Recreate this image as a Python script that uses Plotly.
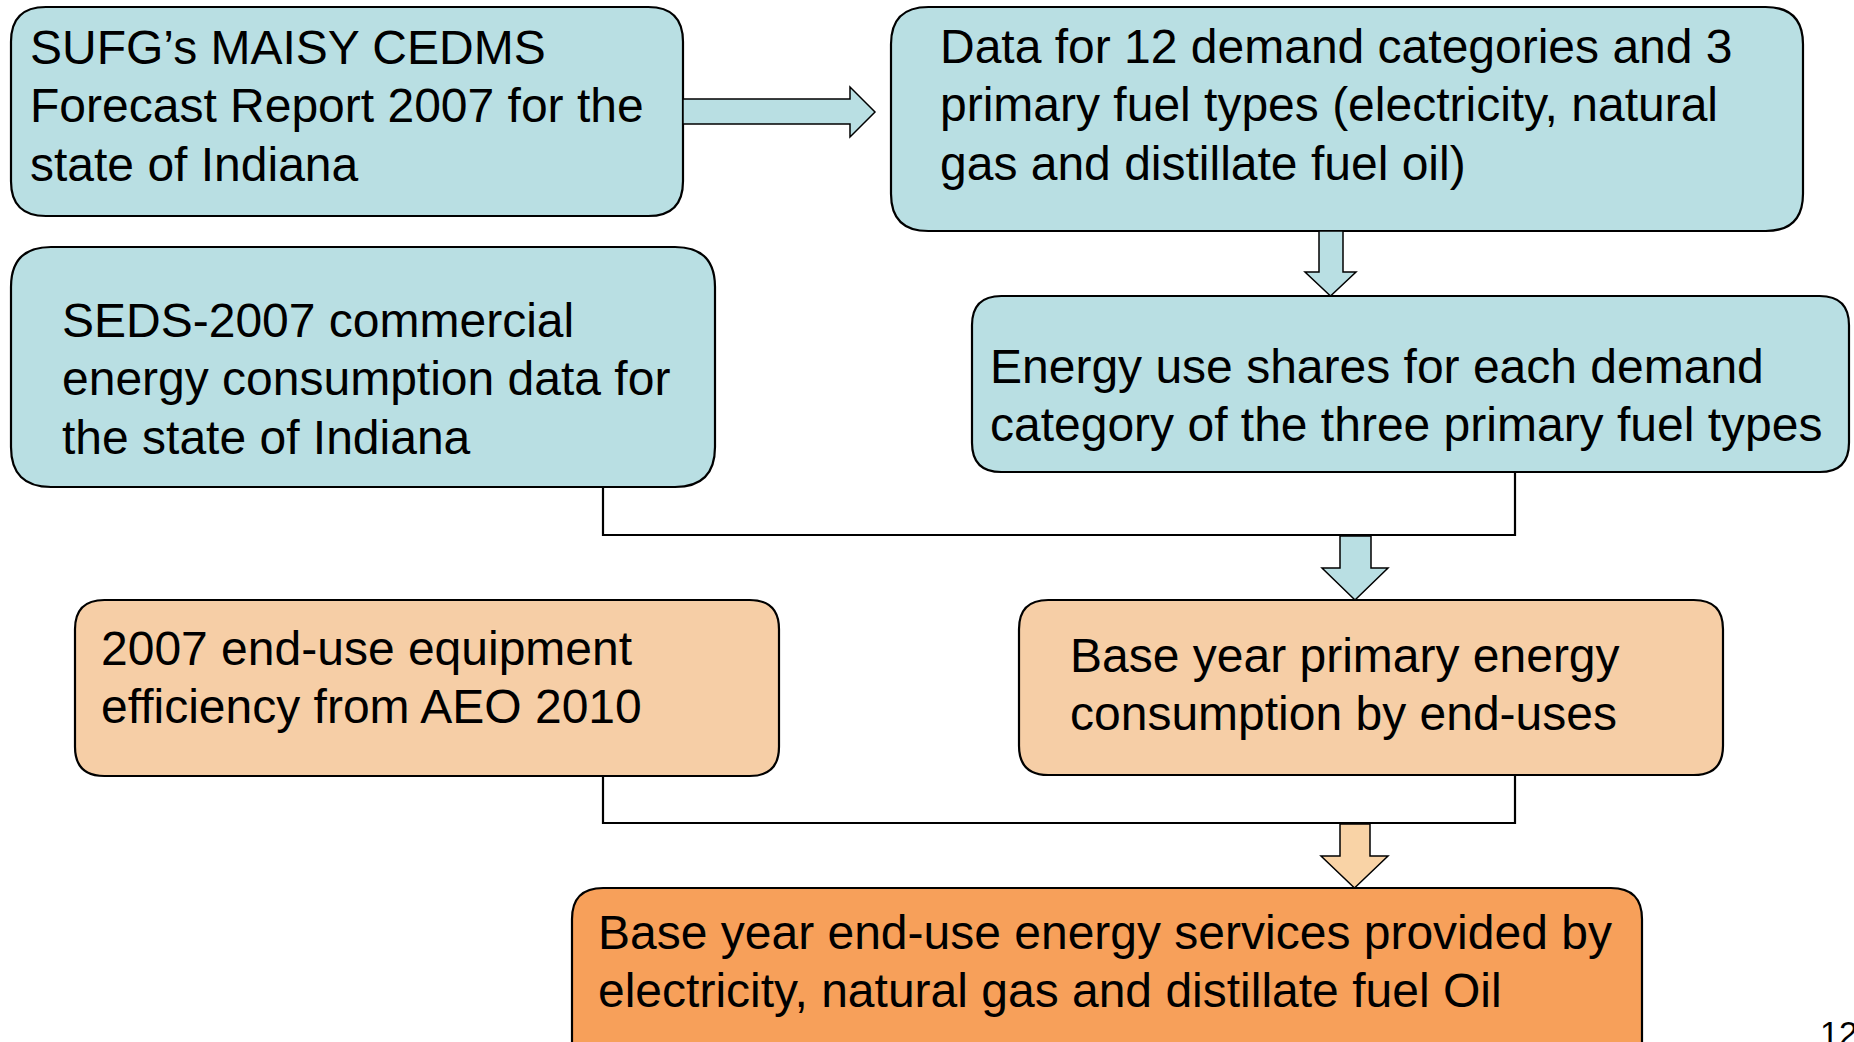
import plotly.graph_objects as go

# ---- content (text of the flowchart) ----
box_texts = [
    ["SUFG’s MAISY CEDMS", "Forecast Report 2007 for the", "state of Indiana"],
    ["Data for 12 demand categories and 3", "primary fuel types (electricity, natural", "gas and distillate fuel oil)"],
    ["SEDS-2007 commercial", "energy consumption data for", "the state of Indiana"],
    ["Energy use shares for each demand", "category of the three primary fuel types"],
    ["2007 end-use equipment", "efficiency from AEO 2010"],
    ["Base year primary energy", "consumption by end-uses"],
    ["Base year end-use energy services provided by", "electricity, natural gas and distillate fuel Oil"],
]
page_label = "12"

# ---- layout (pixel geometry of the slide) ----
W, H = 1854, 1042
box_rects = [
    (11, 7, 683, 216),
    (891, 7, 1803, 231),
    (11, 247, 715, 487),
    (972, 296, 1849, 472),
    (75, 600, 779, 776),
    (1019, 600, 1723, 775),
    (572, 888, 1642, 1075),
]
text_left = [32, 942, 64, 992, 103, 1072, 600]
TEXT_DX = -3.5
first_baseline = [64, 63, 337, 383, 665, 672, 949]
LINE_GAP = 58.5
FS = 48

TEAL = "#B9DFE3"
PEACH = "#F6CEA6"
ORANGE = "#F7A05A"
ARROW_ORANGE = "#F9D3A6"
box_fill = [TEAL, TEAL, TEAL, TEAL, PEACH, PEACH, ORANGE]


def rounded_rect(x0, y0, x1, y1, r):
    return (f"M {x0+r},{y0} L {x1-r},{y0} Q {x1},{y0} {x1},{y0+r} "
            f"L {x1},{y1-r} Q {x1},{y1} {x1-r},{y1} L {x0+r},{y1} "
            f"Q {x0},{y1} {x0},{y1-r} L {x0},{y0+r} Q {x0},{y0} {x0+r},{y0} Z")


def down_arrow(x0s, x1s, x0h, x1h, ytop, yhead, ytip):
    xc = (x0h + x1h) / 2
    return (f"M {x0s},{ytop} L {x1s},{ytop} L {x1s},{yhead} L {x1h},{yhead} "
            f"L {xc},{ytip} L {x0h},{yhead} L {x0s},{yhead} Z")


def right_arrow(xl, xhead, xtip, y0s, y1s, y0h, y1h):
    yc = (y0h + y1h) / 2
    return (f"M {xl},{y0s} L {xhead},{y0s} L {xhead},{y0h} L {xtip},{yc} "
            f"L {xhead},{y1h} L {xhead},{y1s} L {xl},{y1s} Z")


fig = go.Figure()
fig.add_trace(go.Scatter(x=[0, W], y=[0, H], mode="markers",
                         marker=dict(opacity=0), hoverinfo="skip", showlegend=False))

shapes = []
# connector lines
connectors = [
    [(603, 487), (603, 535), (1515, 535), (1515, 472)],
    [(603, 776), (603, 823), (1515, 823), (1515, 775)],
]
for pts in connectors:
    d = "M " + " L ".join(f"{x},{y}" for x, y in pts)
    shapes.append(dict(type="path", path=d, xref="x", yref="y",
                       line=dict(color="black", width=2.2), fillcolor="rgba(0,0,0,0)"))

# boxes
for (x0, y0, x1, y1), fc in zip(box_rects, box_fill):
    r = 0.1667 * min(x1 - x0, y1 - y0)
    r = min(r, 40)
    shapes.append(dict(type="path", path=rounded_rect(x0, y0, x1, y1, r), xref="x", yref="y",
                       fillcolor=fc, line=dict(color="black", width=2.2)))

# arrows
arrows = [
    (right_arrow(683, 850, 875, 99, 124, 87, 137), TEAL),
    (down_arrow(1319, 1343, 1305, 1356, 231, 272, 296), TEAL),
    (down_arrow(1340, 1371, 1322, 1388, 536, 568, 600), TEAL),
    (down_arrow(1340, 1370, 1321, 1388, 824, 856, 888), ARROW_ORANGE),
]
for d, fc in arrows:
    shapes.append(dict(type="path", path=d, xref="x", yref="y",
                       fillcolor=fc, line=dict(color="black", width=1.5)))

annotations = []
for lines, xl, yb in zip(box_texts, text_left, first_baseline):
    for i, t in enumerate(lines):
        base = yb + i * LINE_GAP
        annotations.append(dict(x=xl + TEXT_DX, y=base - 0.3465 * FS, xref="x", yref="y",
                                text=t, showarrow=False, xanchor="left", yanchor="middle",
                                borderpad=0,
                                font=dict(family="Liberation Sans, Arial, sans-serif",
                                          size=FS, color="black")))
annotations.append(dict(x=1819, y=1013, xref="x", yref="y", text=page_label,
                        showarrow=False, xanchor="left", yanchor="top", borderpad=0,
                        font=dict(family="Liberation Sans, Arial, sans-serif",
                                  size=34, color="black")))

fig.update_layout(
    width=W, height=H,
    margin=dict(l=0, r=0, t=0, b=0),
    paper_bgcolor="white", plot_bgcolor="white",
    xaxis=dict(range=[0, W], visible=False, fixedrange=True),
    yaxis=dict(range=[H, 0], visible=False, fixedrange=True),
    shapes=shapes, annotations=annotations, showlegend=False,
)

fig.write_html("out.html",
               config={"displayModeBar": False},
               post_script="document.body.style.margin='0';document.body.style.overflow='hidden';")
